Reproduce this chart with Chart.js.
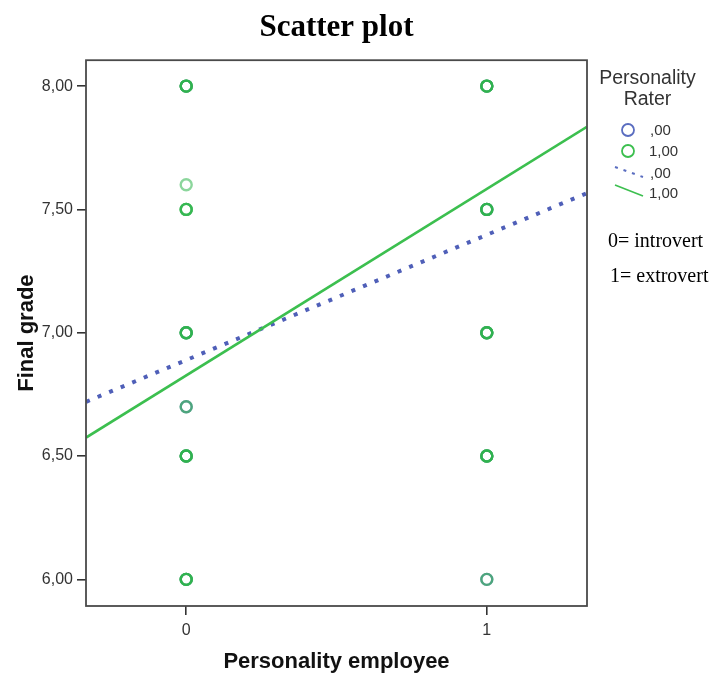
<!DOCTYPE html>
<html>
<head>
<meta charset="utf-8">
<script src="https://cdn.jsdelivr.net/npm/chart.js@4/dist/chart.umd.min.js"></script>
<style>
  html, body { margin: 0; padding: 0; background: #fff; }
  #wrap { position: relative; width: 715px; height: 675px; }
  #chart { position: absolute; left: 0; top: 0; }
  .lg { position: absolute; font-family: "Liberation Sans", Arial, sans-serif; color: #333; white-space: nowrap; }
  .note { position: absolute; font-family: "Liberation Serif", "Times New Roman", serif; color: #000; white-space: nowrap; font-size: 20px; }
</style>
</head>
<body>
<div id="wrap">
  <canvas id="chart" width="715" height="675"></canvas>

  <div class="lg" style="left:588px;top:67px;width:119px;text-align:center;font-size:19.5px;line-height:21px;">Personality<br>Rater</div>
  <svg style="position:absolute;left:610px;top:120px" width="40" height="85">
    <circle cx="18" cy="10" r="6" fill="none" stroke="#5a6dc0" stroke-width="1.8"/>
    <circle cx="18" cy="31" r="6" fill="none" stroke="#3cbf4f" stroke-width="1.8"/>
    <line x1="5" y1="47" x2="33" y2="57" stroke="#5a6dc0" stroke-width="2" stroke-dasharray="3 6"/>
    <line x1="5" y1="65" x2="33" y2="76" stroke="#3cbf4f" stroke-width="1.6"/>
  </svg>
  <div class="lg" style="left:650px;top:121px;font-size:15px;">,00</div>
  <div class="lg" style="left:649px;top:142px;font-size:15px;">1,00</div>
  <div class="lg" style="left:650px;top:164px;font-size:15px;">,00</div>
  <div class="lg" style="left:649px;top:184px;font-size:15px;">1,00</div>

  <div class="note" style="left:608px;top:229px;">0= introvert</div>
  <div class="note" style="left:610px;top:264px;">1= extrovert</div>
</div>

<script>
// axis ticks
const employeeTicks = [0, 1];
const gradeTicks = [6, 6.5, 7, 7.5, 8];

// rater 0 (introvert) - mostly hidden under the green circles
const introX = [0, 0, 0, 0, 0, 1, 1, 1, 1, 1];
const introY = [6.0, 6.5, 6.7, 7.0, 8.0, 6.0, 6.5, 7.0, 7.5, 8.0];

// rater 1 (extrovert) - repeated rows stack up and look darker
const extroX = [0, 0, 0, 0, 0, 0, 0, 0, 0, 0, 0, 0, 0, 0, 0, 0, 0, 0, 0, 0, 0, 0,
                1, 1, 1, 1, 1, 1, 1, 1, 1, 1, 1, 1, 1, 1, 1, 1, 1];
const extroY = [8.0, 8.0, 8.0, 8.0, 7.6, 7.5, 7.5, 7.5, 7.5, 7.0, 7.0, 7.0, 7.0, 6.7, 6.5, 6.5, 6.5, 6.5, 6.0, 6.0, 6.0, 6.0,
                8.0, 8.0, 8.0, 8.0, 7.5, 7.5, 7.5, 7.5, 7.0, 7.0, 7.0, 7.0, 6.5, 6.5, 6.5, 6.5, 6.0];

// fit lines, read at the left and right edges of the plot
const fitX = [-0.333, 1.333];
const fitIntro = [6.72, 7.566];
const fitExtro = [6.575, 7.835];

const pts = (xs, ys) => xs.map((x, i) => ({ x: x, y: ys[i] }));

const frame = {
  id: 'frame',
  afterDraw(chart) {
    const a = chart.chartArea, ctx = chart.ctx;
    ctx.save();
    ctx.strokeStyle = '#4a4a4a';
    ctx.lineWidth = 1.8;
    ctx.strokeRect(a.left, a.top, a.right - a.left, a.bottom - a.top);
    ctx.restore();
  }
};

const tickFont = { family: 'Liberation Sans', size: 16 };
const titleFont = { family: 'Liberation Sans', size: 22, weight: 'bold' };

new Chart(document.getElementById('chart'), {
  type: 'scatter',
  data: {
    datasets: [
      {
        label: '1,00',
        data: pts(extroX, extroY),
        pointRadius: 5.5,
        pointBorderWidth: 2.4,
        borderColor: 'rgba(45, 180, 75, 0.55)',
        backgroundColor: 'rgba(0,0,0,0)'
      },
      {
        label: ',00',
        data: pts(introX, introY),
        pointRadius: 5.5,
        pointBorderWidth: 2.4,
        borderColor: 'rgba(80, 120, 170, 0.8)',
        backgroundColor: 'rgba(0,0,0,0)'
      },
      {
        type: 'line',
        label: '1,00',
        data: pts(fitX, fitExtro),
        borderColor: '#3cbf4f',
        borderWidth: 2.6,
        pointRadius: 0,
        fill: false
      },
      {
        type: 'line',
        label: ',00',
        data: pts(fitX, fitIntro),
        borderColor: '#4f5fb8',
        borderWidth: 4,
        borderDash: [4, 8.5],
        pointRadius: 0,
        fill: false
      }
    ]
  },
  options: {
    responsive: false,
    animation: false,
    layout: { padding: { top: 0, right: 128, bottom: 0, left: 0 } },
    plugins: {
      legend: { display: false },
      tooltip: { enabled: false },
      title: {
        display: true,
        fullSize: false,
        text: 'Scatter plot',
        color: '#000',
        font: { family: 'Liberation Serif', size: 31, weight: 'bold' },
        padding: { top: 9, bottom: 14 }
      }
    },
    scales: {
      x: {
        type: 'linear',
        min: -1 / 3,
        max: 4 / 3,
        afterBuildTicks: s => { s.ticks = employeeTicks.map(v => ({ value: v })); },
        afterFit: s => { s.height = 69; },
        border: { display: false },
        grid: { drawOnChartArea: false, tickLength: 9, color: '#333', lineWidth: 1.6 },
        ticks: { font: tickFont, color: '#333', padding: 6, callback: v => String(v) },
        title: { display: true, text: 'Personality employee', color: '#111', font: titleFont, padding: { top: 0, bottom: 0 } }
      },
      y: {
        min: 5.892,
        max: 8.105,
        afterBuildTicks: s => { s.ticks = gradeTicks.map(v => ({ value: v })); },
        afterFit: s => { s.width = 86; },
        border: { display: false },
        grid: { drawOnChartArea: false, tickLength: 9, color: '#333', lineWidth: 1.6 },
        ticks: { font: tickFont, color: '#333', padding: 4, callback: v => v.toFixed(2).replace('.', ',') },
        title: { display: true, text: 'Final grade', color: '#111', font: titleFont, padding: { top: 14, bottom: 0 } }
      }
    }
  },
  plugins: [frame]
});
</script>
</body>
</html>
